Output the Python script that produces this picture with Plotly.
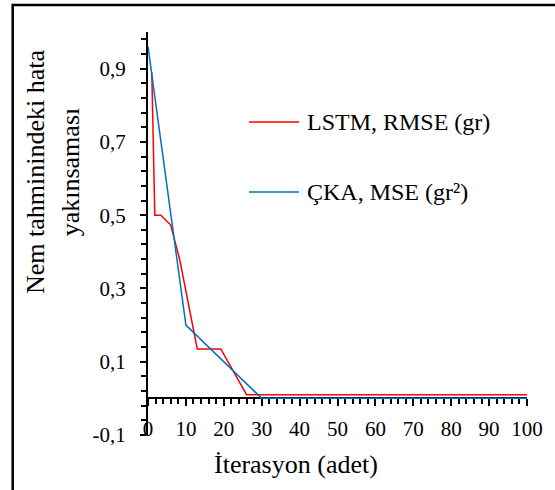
import plotly.graph_objects as go

# Convergence of the humidity-estimation error over training iterations
lstm_name = "LSTM, RMSE (gr)"
lstm_iter = [1, 1.8, 3.4, 6, 8.4, 13, 19.2, 26, 100]
lstm_err = [0.89, 0.5, 0.5, 0.473, 0.377, 0.135, 0.135, 0.01, 0.01]

cka_name = "ÇKA, MSE (gr²)"
cka_iter = [0, 10, 30, 100]
cka_err = [0.96, 0.2, 0.0, 0.0]

x_tick_vals = [0, 10, 20, 30, 40, 50, 60, 70, 80, 90, 100]
x_tick_text = ["0", "10", "20", "30", "40", "50", "60", "70", "80", "90", "100"]
y_tick_vals = [-0.1, 0.1, 0.3, 0.5, 0.7, 0.9]
y_tick_text = ["-0,1", "0,1", "0,3", "0,5", "0,7", "0,9"]

y_title_lines = ["Nem tahminindeki hata", "yakınsaması"]
x_title = "İterasyon (adet)"

RED = "#FF0000"
BLUE = "#0070C0"
FONT = "Liberation Serif, Times New Roman, serif"

fig = go.Figure()
fig.add_trace(go.Scatter(x=lstm_iter, y=lstm_err, mode="lines", name=lstm_name,
                         line=dict(color=RED, width=1.5), showlegend=False))
fig.add_trace(go.Scatter(x=cka_iter, y=cka_err, mode="lines", name=cka_name,
                         line=dict(color=BLUE, width=1.5), showlegend=False))

Y_MIN, Y_MAX = -0.1, 1.0
zero_pos = (0 - Y_MIN) / (Y_MAX - Y_MIN)

fig.update_layout(
    width=555, height=490,
    margin=dict(l=148, r=28, t=32, b=55),
    paper_bgcolor="white", plot_bgcolor="white",
    font=dict(family=FONT, color="black"),
    xaxis=dict(
        range=[0, 100], anchor="free", position=zero_pos,
        showgrid=False, zeroline=False,
        showline=True, linecolor="black", linewidth=2,
        ticks="outside", ticklen=7, tickwidth=2, tickcolor="black",
        tickvals=x_tick_vals, ticktext=x_tick_text,
        tickfont=dict(family=FONT, size=21, color="black"),
        ticklabelstandoff=4,
        minor=dict(dtick=2, tick0=0, ticks="outside", ticklen=5,
                   tickwidth=1.5, tickcolor="black", showgrid=False),
        layer="below traces",
    ),
    yaxis=dict(
        range=[Y_MIN, Y_MAX],
        showgrid=False, zeroline=False,
        showline=True, linecolor="black", linewidth=2,
        ticks="outside", ticklen=6, tickwidth=2, tickcolor="black",
        tickvals=y_tick_vals, ticktext=y_tick_text,
        tickfont=dict(family=FONT, size=21, color="black"),
        ticklabelstandoff=10,
        minor=dict(dtick=0.04, tick0=-0.1, ticks="outside", ticklen=5,
                   tickwidth=1.5, tickcolor="black", showgrid=False),
        layer="below traces",
    ),
)

# outer frame of the chart
fig.add_shape(type="rect", xref="paper", yref="paper",
              x0=-0.357, x1=1.3, y0=-0.3, y1=1.067,
              line=dict(color="black", width=2.5), layer="below")

# axis titles
fig.add_annotation(text=y_title_lines[0], xref="paper", yref="paper",
                   x=-0.298, y=0.6526, textangle=-90, showarrow=False,
                   xanchor="center", yanchor="middle",
                   font=dict(family=FONT, size=26, color="black"))
fig.add_annotation(text=y_title_lines[1], xref="paper", yref="paper",
                   x=-0.205, y=0.6526, textangle=-90, showarrow=False,
                   xanchor="center", yanchor="middle",
                   font=dict(family=FONT, size=26, color="black"))
fig.add_annotation(text=x_title, xref="paper", yref="paper",
                   x=0.3905, y=-0.072, showarrow=False,
                   xanchor="center", yanchor="middle",
                   font=dict(family=FONT, size=26, color="black"))

# legend: line sample followed by series name
legend_items = [(lstm_name, RED, 0.7767), (cka_name, BLUE, 0.603)]
for name, color, ly in legend_items:
    fig.add_shape(type="line", xref="paper", yref="paper",
                  x0=0.2665, x1=0.3984, y0=ly, y1=ly,
                  line=dict(color=color, width=1.5))
    fig.add_annotation(text=name, xref="paper", yref="paper",
                       x=0.4142, y=ly, showarrow=False,
                       xanchor="left", yanchor="middle",
                       font=dict(family=FONT, size=24, color="black"))

fig.write_html("out.html")
